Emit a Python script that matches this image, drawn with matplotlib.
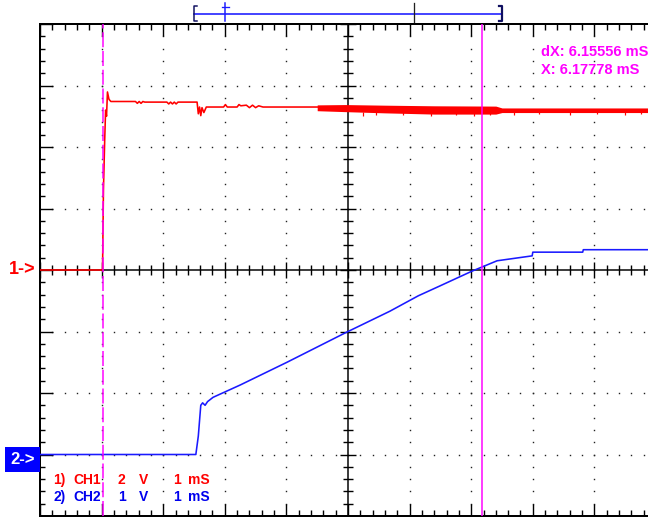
import matplotlib
matplotlib.use('Agg')
import matplotlib.pyplot as plt
import numpy as np
from matplotlib.collections import LineCollection
from matplotlib.patches import Rectangle

# ---------------- data (time in ms, voltage in V) ----------------
ch1_t = [-1.0, 0.015, 0.03, 0.05, 0.065, 0.08, 0.095, 0.12, 0.15, 0.55, 0.58, 0.61, 0.64, 0.67,
         0.70, 1.06, 1.09, 1.12, 1.15, 1.18, 1.21, 1.24, 1.55, 1.57, 1.59, 1.61, 1.63, 1.66, 1.70,
         1.98, 2.01, 2.04, 2.20, 2.23, 2.26, 2.35, 2.40, 2.45, 2.50, 2.55, 2.62, 3.50]
ch1_v = [0.0, 0.0, 2.6, 4.2, 5.2, 5.0, 5.79, 5.55, 5.48, 5.48, 5.42, 5.48, 5.42, 5.48,
         5.46, 5.46, 5.40, 5.46, 5.40, 5.46, 5.40, 5.46, 5.46, 5.08, 5.30, 5.02, 5.28, 5.12, 5.30,
         5.30, 5.38, 5.30, 5.30, 5.38, 5.34, 5.36, 5.28, 5.36, 5.28, 5.34, 5.30, 5.30]

noise_t = [3.50, 3.95, 4.60, 5.40, 6.40, 6.50, 8.90]
noise_hi = [5.37, 5.38, 5.36, 5.34, 5.33, 5.27, 5.27]
noise_lo = [5.18, 5.15, 5.11, 5.07, 5.07, 5.12, 5.12]

spike_t = [4.25, 4.45, 4.90, 5.35, 5.75, 6.05, 6.30, 6.70, 7.10, 7.60, 8.05, 8.50, 8.75]
spike_v = [5.02, 5.04, 5.03, 5.02, 5.03, 5.02, 5.04, 5.05, 5.06, 5.05, 5.06, 5.05, 5.06]

ch2_t = [-1.0, 1.53, 1.57, 1.61, 1.64, 1.68, 1.72, 1.81, 2.25, 3.01, 3.98, 4.68, 5.14,
         5.49, 6.01, 6.42, 6.99, 7.00, 7.81, 7.82, 8.90]
ch2_v = [0.0, 0.0, 0.30, 0.80, 0.84, 0.80, 0.86, 0.93, 1.13, 1.50, 1.99, 2.33, 2.58,
         2.74, 2.98, 3.15, 3.23, 3.29, 3.29, 3.33, 3.33]

cursor_a = 0.02222
cursor_b = 6.17778
readout = ["dX: 6.15556 mS", "X: 6.17778 mS"]
ch1_label = ["1)", "CH1", "2", "V", "1", "mS"]
ch2_label = ["2)", "CH2", "1", "V", "1", "mS"]

RED = '#ff0000'
BLUE = '#1a1aff'
MAG = '#ff00ff'
FONT = 'Liberation Sans'

# ---------------- layout ----------------
W, H = 648, 519
L, T, R, B = 40, 24, 656, 516
fig = plt.figure(figsize=(W / 100, H / 100), dpi=100)
fig.patch.set_facecolor('white')
rect = [L / W, (H - B) / H, (R - L) / W, (B - T) / H]

ax = fig.add_axes(rect, label='grid')
ax.set_xlim(-1, 9)
ax.set_ylim(-4, 4)
ax.axis('off')
px_x = 10 / (R - L)
px_y = 8 / (B - T)
PT = 0.72  # px -> points

# dotted grid
dx, dy = [], []
minor_x = np.round(np.arange(-1, 9.001, 0.2), 3)
minor_y = np.round(np.arange(-4, 4.001, 0.2), 3)
for gy in [-3, -2, -1, 1, 2, 3]:
    for mx in minor_x:
        dx.append(mx); dy.append(gy)
for gx in [0, 1, 2, 3, 5, 6, 7, 8]:
    for my in minor_y:
        dx.append(gx); dy.append(my)
ax.plot(dx, dy, ls='none', marker='s', ms=1.4 * PT, mew=0, color='#222222')

# frame and centre lines
ax.plot([-1, -1], [-4, 4], color='black', lw=2 * PT, solid_capstyle='butt', clip_on=False)
ax.plot([-1, 9], [4, 4], color='black', lw=2 * PT, clip_on=False)
ax.plot([-1, 9], [-4, -4], color='black', lw=2 * PT, clip_on=False)
ax.plot([-1, 9], [0, 0], color='black', lw=1.5 * PT)
ax.plot([4, 4], [-4, 4], color='black', lw=1.5 * PT)

segs = []
for mx in minor_x:
    major = abs(mx - round(mx)) < 1e-6
    ln_top = (12 if major else 6) * px_y
    segs.append([(mx, 4), (mx, 4 - ln_top)])
    segs.append([(mx, -4), (mx, -4 + ln_top)])
    ln_c = (8 if major else 5) * px_y
    segs.append([(mx, -ln_c), (mx, ln_c)])
for my in minor_y:
    major = abs(my - round(my)) < 1e-6
    ln_l = (13 if major else 5) * px_x
    segs.append([(-1, my), (-1 + ln_l, my)])
    ln_c = (8 if major else 5) * px_x
    segs.append([(4 - ln_c, my), (4 + ln_c, my)])
ax.add_collection(LineCollection(segs, colors='black', linewidths=1.4 * PT))

# channel 2 (1 V/div, ground 3 div below centre)
ax2 = fig.add_axes(rect, label='ch2')
ax2.set_xlim(-1, 9)
ax2.set_ylim(-1, 7)
ax2.axis('off')
ax2.plot(ch2_t, ch2_v, color=BLUE, lw=1.6 * PT, drawstyle='default')

# channel 1 (2 V/div, ground at centre)
ax1 = fig.add_axes(rect, label='ch1')
ax1.set_xlim(-1, 9)
ax1.set_ylim(-8, 8)
ax1.axis('off')
ax1.plot(ch1_t, ch1_v, color=RED, lw=1.6 * PT)
ax1.fill_between(noise_t, noise_lo, noise_hi, color=RED, lw=0)
ax1.vlines(spike_t, spike_v, [5.15] * len(spike_t), color=RED, lw=1.2 * PT)

# cursors
axc = fig.add_axes(rect, label='cursors')
axc.set_xlim(-1, 9)
axc.set_ylim(-4, 4)
axc.axis('off')
axc.axvline(cursor_a, color=MAG, lw=1.5 * PT, ls=(0, (10, 2.5)))
axc.axvline(cursor_b, color=MAG, lw=1.5 * PT)

# ---------------- pixel overlay: indicators and text ----------------
axp = fig.add_axes([0, 0, 1, 1], label='px')
axp.set_xlim(0, W)
axp.set_ylim(H, 0)
axp.axis('off')

# memory position bar
axp.plot([194, 502], [14, 14], color=BLUE, lw=1.6 * PT)
axp.plot([197, 194, 194, 197], [6, 6, 21, 21], color='#101060', lw=1.5 * PT)
axp.plot([499, 502, 502, 499], [6, 6, 21, 21], color='#101060', lw=2.2 * PT)
axp.plot([225, 225], [3, 21], color=BLUE, lw=1.5 * PT)
axp.plot([221.5, 228.5], [7, 7], color=BLUE, lw=1.3 * PT)
axp.plot([414, 414], [3, 22], color='#202020', lw=1.3 * PT)

# channel markers
axp.text(35, 270, "1->", color=RED, fontsize=13, fontweight='bold', family=FONT,
         ha='right', va='center')
axp.add_patch(Rectangle((5, 447), 35, 25, color='#0000ff', lw=0))
axp.text(22.5, 459.5, "2->", color='white', fontsize=12, fontweight='bold', family=FONT,
         ha='center', va='center')

# scale labels
xs = [53, 73, 118, 139, 173, 188]
for x, s in zip(xs, ch1_label):
    axp.text(x, 480, s, color=RED, fontsize=10, fontweight='bold', family=FONT,
             ha='left', va='center')
for x, s in zip(xs, ch2_label):
    axp.text(x, 497, s, color='#0000ee', fontsize=10, fontweight='bold', family=FONT,
             ha='left', va='center')

# cursor readout
axp.text(541, 52, readout[0], color=MAG, fontsize=10.5, fontweight='bold', family=FONT,
         ha='left', va='center')
axp.text(541, 70, readout[1], color=MAG, fontsize=10.5, fontweight='bold', family=FONT,
         ha='left', va='center')

fig.savefig('out.png', dpi=100, facecolor='white')
